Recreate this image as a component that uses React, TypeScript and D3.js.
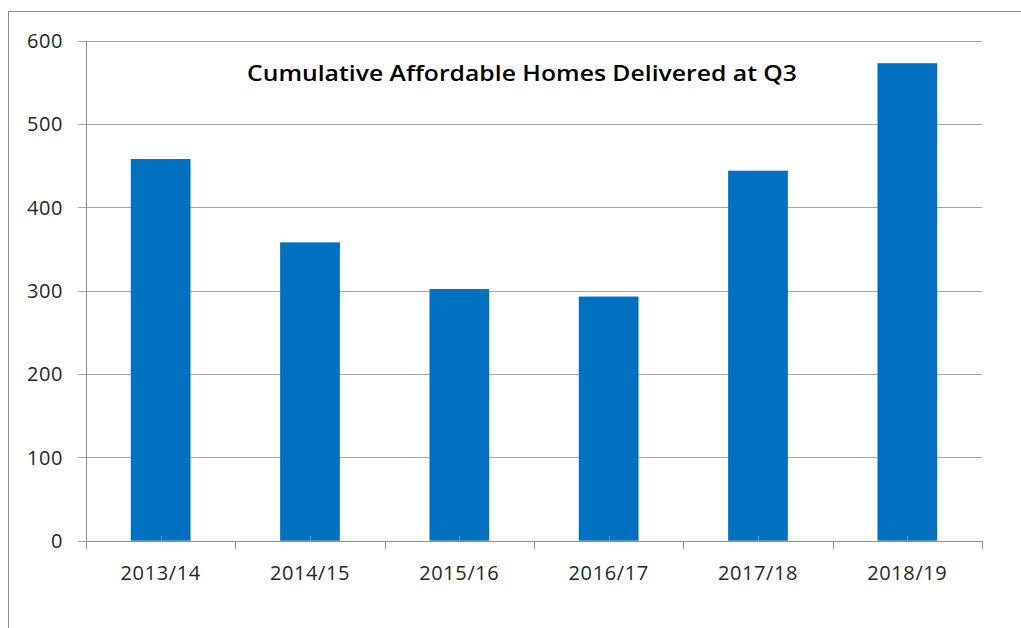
import React, { useEffect, useRef } from 'react';
import * as d3 from 'd3';

const years = ['2013/14', '2014/15', '2015/16', '2016/17', '2017/18', '2018/19'];
const homes = [458, 358, 302, 293, 444, 573];
const yTicks = [0, 100, 200, 300, 400, 500, 600];

const title = 'Cumulative Affordable Homes Delivered at Q3';

const App = () => {
  const svgRef = useRef<SVGSVGElement>(null);

  useEffect(() => {
    if (!svgRef.current) return;
    const width = 1021;
    const height = 628;
    const left = 86;
    const right = 982;
    const top = 40.7;
    const bottom = 540.7;

    const svg = d3.select(svgRef.current);
    svg.selectAll('*').remove();

    // outer frame, runs off the right and bottom edges
    svg.append('rect')
      .attr('x', 8.5).attr('y', 11.5)
      .attr('width', width).attr('height', height)
      .attr('fill', 'none').attr('stroke', '#8c8c8c').attr('stroke-width', 1);

    const x = d3.scaleBand().domain(years).range([left, right]).paddingInner(0.6).paddingOuter(0.3);
    const y = d3.scaleLinear().domain([0, 600]).range([bottom, top]);

    // gridlines with outside ticks
    svg.append('g')
      .selectAll('line')
      .data(yTicks)
      .join('line')
      .attr('x1', left - 8).attr('x2', right)
      .attr('y1', d => Math.round(y(d)) + 0.5).attr('y2', d => Math.round(y(d)) + 0.5)
      .attr('stroke', '#a6a6a6').attr('stroke-width', 1);

    svg.append('g')
      .selectAll('text')
      .data(yTicks)
      .join('text')
      .attr('x', 63)
      .attr('y', d => y(d))
      .attr('dy', '0.36em')
      .attr('text-anchor', 'end')
      .attr('font-family', 'Open Sans, sans-serif')
      .attr('font-size', 20)
      .attr('letter-spacing', 0.6)
      .attr('fill', '#262626')
      .text(d => d);

    // bars
    svg.append('g')
      .selectAll('rect')
      .data(homes)
      .join('rect')
      .attr('x', (d, i) => x(years[i])!)
      .attr('y', d => y(d))
      .attr('width', x.bandwidth())
      .attr('height', d => y(0) - y(d))
      .attr('fill', '#0070c0');

    // y axis line
    svg.append('line')
      .attr('x1', left + 0.5).attr('x2', left + 0.5)
      .attr('y1', top).attr('y2', bottom)
      .attr('stroke', '#8c8c8c');

    // x axis line and ticks at category boundaries
    svg.append('line')
      .attr('x1', left).attr('x2', right)
      .attr('y1', Math.round(bottom) + 0.5).attr('y2', Math.round(bottom) + 0.5)
      .attr('stroke', '#8c8c8c');

    const step = x.step();
    svg.append('g')
      .selectAll('line')
      .data(d3.range(years.length + 1))
      .join('line')
      .attr('x1', i => Math.round(left + i * step) + 0.5)
      .attr('x2', i => Math.round(left + i * step) + 0.5)
      .attr('y1', Math.round(bottom)).attr('y2', Math.round(bottom) + 8)
      .attr('stroke', '#8c8c8c');

    // small marks at bar centres
    svg.append('g')
      .selectAll('line')
      .data(years)
      .join('line')
      .attr('x1', d => Math.round(x(d)! + x.bandwidth() / 2) + 0.5)
      .attr('x2', d => Math.round(x(d)! + x.bandwidth() / 2) + 0.5)
      .attr('y1', Math.round(bottom) - 5).attr('y2', Math.round(bottom))
      .attr('stroke', '#8c8c8c');

    svg.append('g')
      .selectAll('text')
      .data(years)
      .join('text')
      .attr('x', d => x(d)! + x.bandwidth() / 2)
      .attr('y', 580)
      .attr('text-anchor', 'middle')
      .attr('font-family', 'Open Sans, sans-serif')
      .attr('font-size', 20)
      .attr('letter-spacing', 0.6)
      .attr('fill', '#262626')
      .text(d => d);

    svg.append('text')
      .attr('x', 522)
      .attr('y', 81)
      .attr('text-anchor', 'middle')
      .attr('font-family', 'Open Sans, sans-serif')
      .attr('font-weight', 600)
      .attr('font-size', 21)
      .attr('textLength', 550)
      .attr('lengthAdjust', 'spacingAndGlyphs')
      .attr('fill', '#000')
      .text(title);
  }, []);

  return (
    <div style={{ position: 'absolute', left: 0, top: 0, width: 1021, height: 628, background: '#fff' }}>
      <svg ref={svgRef} width={1021} height={628} style={{ display: 'block' }}></svg>
    </div>
  );
};

export default App;
